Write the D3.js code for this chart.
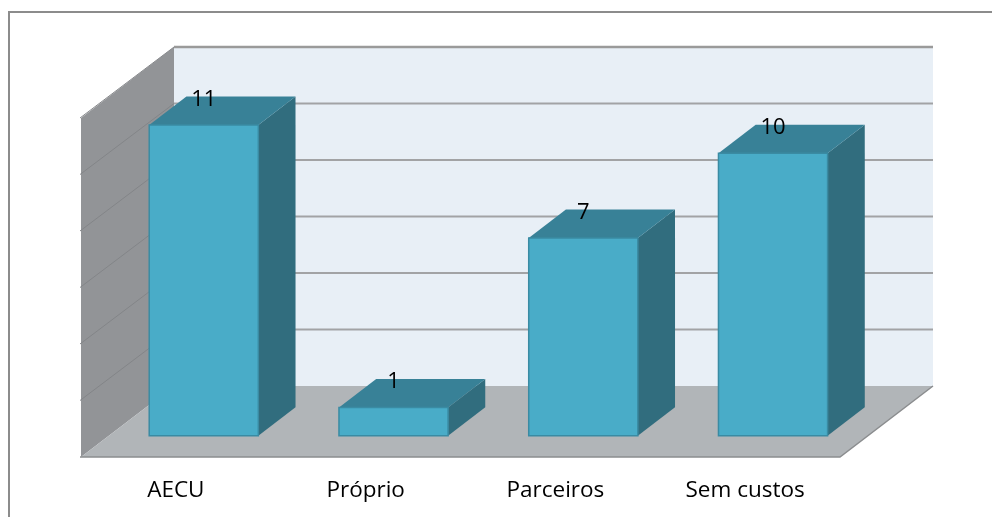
<!DOCTYPE html>
<html>
<head>
<meta charset="utf-8">
<script src="https://cdn.jsdelivr.net/npm/d3@7"></script>
<style>
  html, body { margin: 0; padding: 0; background: #fff; }
  svg { display: block; filter: blur(0.45px); }
</style>
</head>
<body>
<div id="chart"></div>
<script>
const categories = ["AECU", "Próprio", "Parceiros", "Sem custos"];
const values = [11, 1, 7, 10];
const gridValues = [0, 2, 4, 6, 8, 10, 12];

const W = 992, H = 517;
const fontName = "Open Sans";

// front plane of the 3d box, the depth is skewed up and to the right
const plot = {left: 81, right: 840, top: 118, bottom: 457};
const depth = {x: 93, y: -71, barFront: 0.3, barBack: 0.7};

const svg = d3.select("#chart").append("svg")
    .attr("width", W)
    .attr("height", H);

const x = d3.scaleBand()
    .domain(categories)
    .range([plot.left, plot.right])
    .paddingInner(0.425)
    .paddingOuter(0.2125);

const y = d3.scaleLinear()
    .domain([0, 12])
    .range([plot.bottom, plot.top]);

// project a point of the front plane to depth d (0..1)
const pt = (px, py, d) => [px + d * depth.x, py + d * depth.y];
const poly = pts => "M" + pts.map(p => p.join(",")).join("L") + "Z";

// outer frame
svg.append("path")
    .attr("d", `M9,${H + 5}V12H${W + 5}`)
    .attr("fill", "none")
    .attr("stroke", "#8c8c8c")
    .attr("stroke-width", 2);

// back wall
svg.append("path")
    .attr("d", poly([pt(plot.left, y(12), 1), pt(plot.right, y(12), 1), pt(plot.right, y(0), 1), pt(plot.left, y(0), 1)]))
    .attr("fill", "#e8eff6");

// left wall
svg.append("path")
    .attr("d", poly([pt(plot.left, y(12), 0), pt(plot.left, y(12), 1), pt(plot.left, y(0), 1), pt(plot.left, y(0), 0)]))
    .attr("fill", "#929497");

// floor
svg.append("path")
    .attr("d", poly([pt(plot.left, y(0), 0), pt(plot.left, y(0), 1), pt(plot.right, y(0), 1), pt(plot.right, y(0), 0)]))
    .attr("fill", "#b1b5b8");

// grid lines on the back wall
svg.append("g").selectAll("line")
    .data(gridValues.filter(d => d > 0))
    .join("line")
    .attr("x1", pt(plot.left, 0, 1)[0])
    .attr("x2", pt(plot.right, 0, 1)[0])
    .attr("y1", d => pt(0, y(d), 1)[1])
    .attr("y2", d => pt(0, y(d), 1)[1])
    .attr("stroke", d => d === 12 ? "#9a9a9a" : "#a2a3a5")
    .attr("stroke-width", d => d === 12 ? 2.5 : 2);

// grid lines on the left wall
svg.append("g").selectAll("line")
    .data(gridValues.filter(d => d > 0 && d < 12))
    .join("line")
    .attr("x1", plot.left - 1)
    .attr("y1", d => y(d))
    .attr("x2", pt(plot.left, 0, 1)[0])
    .attr("y2", d => pt(0, y(d), 1)[1])
    .attr("stroke", "#838588")
    .attr("stroke-width", 1);

// edges of the floor and the left wall
svg.append("path")
    .attr("d", "M" + [pt(plot.left - 1, y(0), 0), pt(plot.right, y(0), 0), pt(plot.right, y(0), 1)].map(p => p.join(",")).join("L"))
    .attr("fill", "none")
    .attr("stroke", "#8b8d8f")
    .attr("stroke-width", 1.5);

svg.append("path")
    .attr("d", "M" + [pt(plot.left - 1, y(12), 0), pt(plot.left, y(12), 1)].map(p => p.join(",")).join("L"))
    .attr("fill", "none")
    .attr("stroke", "#86888b")
    .attr("stroke-width", 1);

// bars
const bars = svg.append("g").selectAll("g")
    .data(categories.map((c, i) => ({cat: c, value: values[i]})))
    .join("g");

const x0 = d => x(d.cat);
const x1 = d => x(d.cat) + x.bandwidth();

// side face
bars.append("path")
    .attr("d", d => poly([
        pt(x1(d), y(d.value), depth.barFront), pt(x1(d), y(d.value), depth.barBack),
        pt(x1(d), y(0), depth.barBack), pt(x1(d), y(0), depth.barFront)]))
    .attr("fill", "#316d7e");

// top face
bars.append("path")
    .attr("d", d => poly([
        pt(x0(d), y(d.value), depth.barFront), pt(x0(d), y(d.value), depth.barBack),
        pt(x1(d), y(d.value), depth.barBack), pt(x1(d), y(d.value), depth.barFront)]))
    .attr("fill", "#388197");

// front face
bars.append("path")
    .attr("d", d => poly([
        pt(x0(d), y(d.value), depth.barFront), pt(x1(d), y(d.value), depth.barFront),
        pt(x1(d), y(0), depth.barFront), pt(x0(d), y(0), depth.barFront)]))
    .attr("fill", "#49acc8")
    .attr("stroke", "#3a8ba3")
    .attr("stroke-width", 1.5);

// value labels
bars.append("text")
    .attr("x", d => pt(x0(d) + x.bandwidth() / 2, 0, depth.barFront)[0])
    .attr("y", d => pt(0, y(d.value), depth.barFront)[1] - 19)
    .attr("text-anchor", "middle")
    .attr("font-family", fontName)
    .attr("font-size", "22px")
    .attr("fill", "#000")
    .text(d => d.value);

// category labels
svg.append("g")
    .attr("transform", `translate(0,${plot.bottom})`)
    .call(d3.axisBottom(x).tickSize(0).tickPadding(24))
    .call(g => g.select(".domain").remove())
    .selectAll("text")
    .attr("font-family", fontName)
    .attr("font-size", "22.5px")
    .attr("fill", "#000");
</script>
</body>
</html>
